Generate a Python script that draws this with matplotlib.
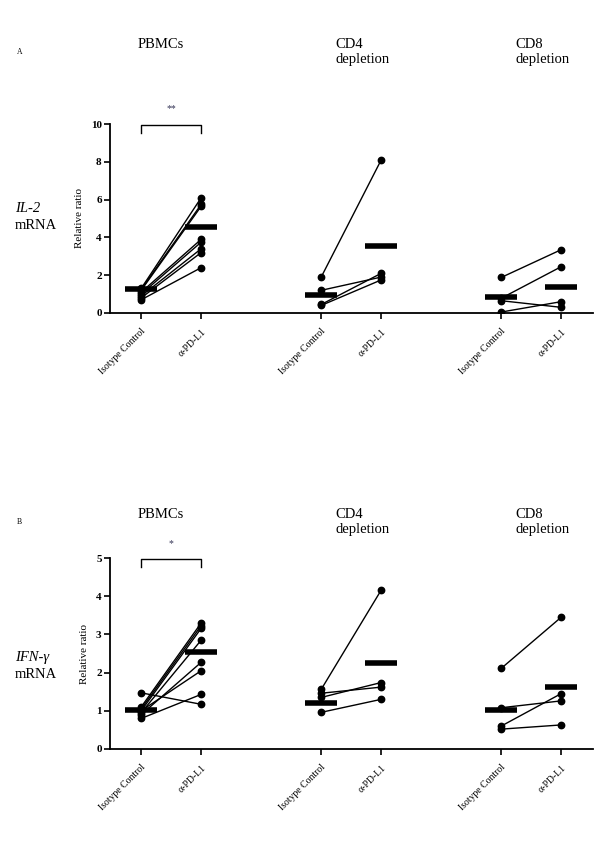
import matplotlib.pyplot as plt

plt.rcParams['font.family'] = ['Liberation Serif', 'DejaVu Serif']

# tick labels and group names
tick_labels = ['Isotype Control', 'α-PD-L1'] * 3
groups = ['PBMCs', 'CD4\ndepletion', 'CD8\ndepletion']

# IL-2 mRNA (panel A)
il2_pbmc_iso = [1.30, 1.25, 1.20, 1.10, 1.00, 0.90, 0.80, 0.70]
il2_pbmc_pdl1 = [6.10, 5.75, 5.65, 3.90, 3.75, 3.40, 3.20, 2.40]
il2_cd4_iso = [1.90, 1.20, 0.45, 0.40]
il2_cd4_pdl1 = [8.10, 1.90, 2.10, 1.75]
il2_cd8_iso = [1.88, 0.78, 0.65, 0.05]
il2_cd8_pdl1 = [3.35, 2.45, 0.30, 0.60]
il2_means = [1.28, 4.55, 0.95, 3.55, 0.83, 1.37]

# IFN-gamma mRNA (panel B)
ifn_pbmc_iso = [1.47, 1.10, 1.05, 1.00, 0.95, 0.90, 0.80, 1.00]
ifn_pbmc_pdl1 = [1.17, 3.30, 3.23, 3.16, 2.85, 2.27, 1.43, 2.05]
ifn_cd4_iso = [1.56, 1.35, 1.46, 0.96]
ifn_cd4_pdl1 = [4.16, 1.74, 1.62, 1.30]
ifn_cd8_iso = [2.11, 1.08, 0.60, 0.52]
ifn_cd8_pdl1 = [3.45, 1.26, 1.45, 0.63]
ifn_means = [1.02, 2.53, 1.20, 2.26, 1.02, 1.63]

positions = [0, 1, 3, 4, 6, 7]

W, H = 600, 867
fig = plt.figure(figsize=(W / 100, H / 100), dpi=100)


def px_axes(x0, y0, x1, y1):
    return fig.add_axes([x0 / W, 1 - y1 / H, (x1 - x0) / W, (y1 - y0) / H])


def draw_panel(ax, pairs, means, ymax, ystep, bracket, star):
    for (x0, x1), (iso, pd) in zip([(0, 1), (3, 4), (6, 7)], pairs):
        for a, b in zip(iso, pd):
            ax.plot([x0, x1], [a, b], color='black', lw=1.0, marker='o',
                    ms=4.6, zorder=3)
    for x, m in zip(positions, means):
        ax.plot([x - 0.27, x + 0.27], [m, m], color='black', lw=4,
                solid_capstyle='butt', zorder=4)
    ax.set_xlim(-0.52, 7.53)
    ax.set_ylim(0, ymax)
    ax.set_yticks([i * ystep for i in range(6)])
    ax.set_yticklabels([str(int(i * ystep)) for i in range(6)],
                       fontsize=8, fontweight='bold')
    ax.set_xticks(positions)
    ax.set_xticklabels(tick_labels, rotation=45, ha='right',
                       rotation_mode='anchor', fontsize=7)
    ax.tick_params(axis='both', length=4, width=1.2, direction='out')
    ax.tick_params(axis='x', pad=6)
    ax.tick_params(axis='y', pad=2)
    ax.set_ylabel('Relative ratio', fontsize=8, labelpad=5)
    for s in ['top', 'right']:
        ax.spines[s].set_visible(False)
    for s in ['left', 'bottom']:
        ax.spines[s].set_linewidth(1.3)
    top, bot = bracket
    ax.plot([0, 0, 1, 1], [bot, top, top, bot], color='black', lw=1.0,
            clip_on=False)
    ax.text(0.5, top + ymax * 0.06, star, ha='center', va='bottom',
            fontsize=7, color='#333355')


axA = px_axes(110, 124, 593, 313)
draw_panel(axA, [(il2_pbmc_iso, il2_pbmc_pdl1), (il2_cd4_iso, il2_cd4_pdl1),
                 (il2_cd8_iso, il2_cd8_pdl1)],
           il2_means, 10, 2, (9.95, 9.55), '**')

axB = px_axes(110, 558, 593, 749)
draw_panel(axB, [(ifn_pbmc_iso, ifn_pbmc_pdl1), (ifn_cd4_iso, ifn_cd4_pdl1),
                 (ifn_cd8_iso, ifn_cd8_pdl1)],
           ifn_means, 5, 1, (4.97, 4.76), '*')


def ftext(x, y, s, **kw):
    fig.text(x / W, 1 - y / H, s, **kw)


for y_top, letter, ly in [(38, 'A', 52), (508, 'B', 522)]:
    ftext(17, ly, letter, fontsize=5.5, va='center')
    ftext(138, y_top, groups[0], fontsize=10.5, va='top')
    ftext(335, y_top, groups[1], fontsize=10.5, va='top', linespacing=1.15)
    ftext(515, y_top, groups[2], fontsize=10.5, va='top', linespacing=1.15)

ftext(15, 208, 'IL-2', fontsize=10.5, style='italic', va='center')
ftext(15, 226, 'mRNA', fontsize=10.5, va='center')
ftext(15, 657, 'IFN-γ', fontsize=10.5, style='italic', va='center')
ftext(15, 675, 'mRNA', fontsize=10.5, va='center')

fig.savefig('out.png', dpi=100)
